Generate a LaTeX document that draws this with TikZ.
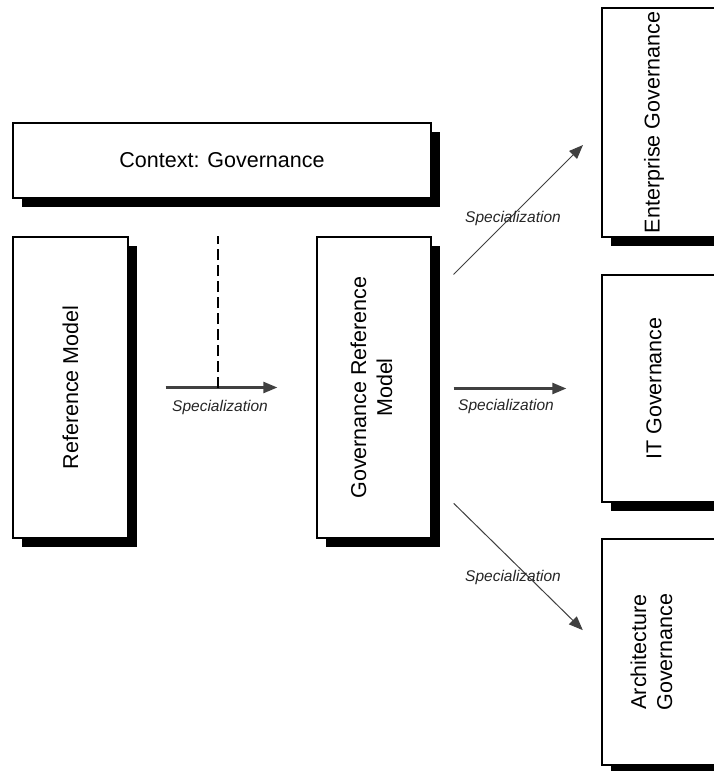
\documentclass[tikz,border=0pt]{standalone}
\usepackage{fontspec}
\setmainfont{Liberation Sans}
\usepackage{graphicx}
\usetikzlibrary{arrows.meta,shadows}

\begin{document}
\begin{tikzpicture}[x=1pt,y=-1pt,
  box/.style={draw=black, line width=1.3pt, fill=white, inner sep=0pt,
    font=\fontsize{21.5}{26}\selectfont,
    drop shadow={shadow xshift=9pt, shadow yshift=-9pt, fill=black, opacity=1}},
  spec/.style={draw=black!75, -{Triangle[length=14pt,width=11pt]}},
  straight/.style={spec, line width=2.4pt},
  slanted/.style={spec, line width=1pt},
  speclabel/.style={font=\fontsize{15.5}{18}\selectfont\itshape, text=black!85, inner sep=0pt},
  dashline/.style={draw=black, line width=1.3pt, dash pattern=on 11pt off 5pt}]

  \clip (0,0) rectangle (714,771);
  \fill[white] (0,0) rectangle (714,771);

  % context banner
  \node[box, minimum width=418pt, minimum height=75pt] (ctx) at (222,160.5)
    {Context: Governance};

  % generic and governance reference models
  \node[box, minimum width=115pt, minimum height=301pt] (ref) at (70.5,387.5)
    {\rotatebox{90}{Reference Model}};
  \node[box, minimum width=114pt, minimum height=301pt] (gov) at (374,387.5)
    {\rotatebox{90}{\begin{tabular}{@{}c@{}}Governance Reference\\Model\end{tabular}}};

  % specialised governance areas, running off the right edge
  \node[box, minimum width=124pt, minimum height=229pt] (ent) at (664,122.5)
    {\rotatebox{90}{Enterprise Governance}\hspace*{20pt}};
  \node[box, minimum width=124pt, minimum height=227pt] (it) at (664,388.5)
    {\rotatebox{90}{IT Governance}\hspace*{20pt}};
  \node[box, minimum width=124pt, minimum height=226pt] (arch) at (664,652)
    {\rotatebox{90}{\begin{tabular}{@{}c@{}}Architecture\\Governance\end{tabular}}\hspace*{20pt}};

  % reference model -> governance reference model, in the governance context
  \draw[straight, shorten <=37pt, shorten >=39pt] (ref.east) -- (gov.west);
  \coordinate (join) at (218,388);
  \draw[dashline] (join) -- (join |- ref.north);
  \node[speclabel] (l1) at (220,407) {Specialization};

  % governance reference model -> specialisations
  \draw[slanted, shorten <=31pt, shorten >=26pt]
    ([yshift=-60pt]gov.north east) -- ([yshift=111pt]ent.south west);
  \node[speclabel] (l2) at (513,218) {Specialization};

  \draw[straight, shorten <=22pt, shorten >=35pt] (gov.east |- it.west) -- (it.west);
  \node[speclabel] (l3) at (506,406) {Specialization};

  \draw[slanted, shorten <=31pt, shorten >=26pt]
    ([yshift=57pt]gov.south east) -- ([yshift=-110pt]arch.north west);
  \node[speclabel] (l4) at (513,577) {Specialization};
\end{tikzpicture}
\end{document}
